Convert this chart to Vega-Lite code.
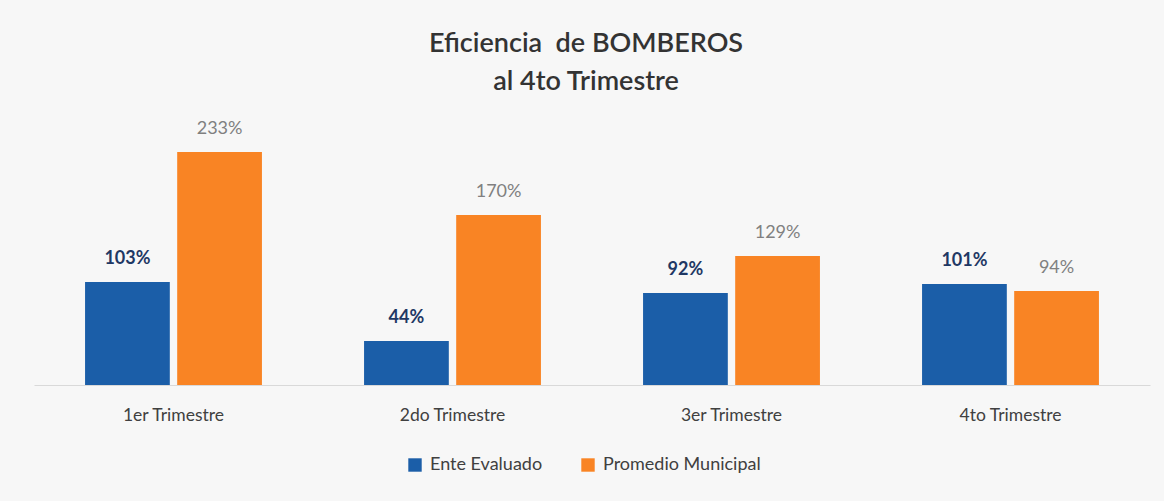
{
  "$schema": "https://vega.github.io/schema/vega-lite/v6.json",
  "autosize": "none",
  "width": 1116,
  "height": 275,
  "padding": {"left": 34, "top": 110, "right": 14, "bottom": 116},
  "background": "#f7f7f7",
  "title": {
    "text": ["Eficiencia\u00a0 de BOMBEROS", "al 4to Trimestre"],
    "font": "Lato",
    "fontSize": 27,
    "fontWeight": 600,
    "color": "#333333",
    "lineHeight": 38,
    "anchor": "middle",
    "offset": 14,
    "dx": -6
  },
  "data": {
    "values": [
      {"trimestre": "1er Trimestre", "serie": "Ente Evaluado", "v": 1.03},
      {"trimestre": "1er Trimestre", "serie": "Promedio Municipal", "v": 2.33},
      {"trimestre": "2do Trimestre", "serie": "Ente Evaluado", "v": 0.44},
      {"trimestre": "2do Trimestre", "serie": "Promedio Municipal", "v": 1.70},
      {"trimestre": "3er Trimestre", "serie": "Ente Evaluado", "v": 0.92},
      {"trimestre": "3er Trimestre", "serie": "Promedio Municipal", "v": 1.29},
      {"trimestre": "4to Trimestre", "serie": "Ente Evaluado", "v": 1.01},
      {"trimestre": "4to Trimestre", "serie": "Promedio Municipal", "v": 0.94}
    ]
  },
  "encoding": {
    "x": {
      "field": "trimestre", "type": "nominal", "sort": null,
      "scale": {"paddingInner": 0.366, "paddingOuter": 0.183},
      "axis": {
        "title": null, "labelAngle": 0, "ticks": false, "domain": true,
        "domainColor": "#d9d9d9", "labelFont": "Lato", "labelFontSize": 17.5,
        "labelColor": "#404040", "labelPadding": 21
      }
    },
    "xOffset": {
      "field": "serie", "type": "nominal",
      "scale": {"paddingInner": 0.08}
    },
    "y": {
      "field": "v", "type": "quantitative",
      "scale": {"domain": [0, 2.75]},
      "axis": null
    }
  },
  "layer": [
    {
      "mark": {"type": "bar"},
      "encoding": {
        "color": {
          "field": "serie", "type": "nominal",
          "scale": {"domain": ["Ente Evaluado", "Promedio Municipal"], "range": ["#1b5ea8", "#f98424"]},
          "legend": {
            "title": null, "orient": "none", "direction": "horizontal",
            "legendX": 372, "legendY": 346,
            "symbolType": "square", "symbolSize": 180, "symbolStrokeWidth": 0,
            "labelFont": "Lato", "labelFontSize": 18, "labelColor": "#404040",
            "labelLimit": 400, "columnPadding": 36, "labelOffset": 6
          }
        }
      }
    },
    {
      "transform": [{"filter": "datum.serie === 'Ente Evaluado'"}],
      "mark": {"type": "text", "baseline": "bottom", "dy": -14, "font": "Lato", "fontSize": 18, "fontWeight": "bold", "color": "#1f3864"},
      "encoding": {"text": {"field": "v", "type": "quantitative", "format": ".0%"}}
    },
    {
      "transform": [{"filter": "datum.serie === 'Promedio Municipal'"}],
      "mark": {"type": "text", "baseline": "bottom", "dy": -14, "font": "Lato", "fontSize": 18, "color": "#808080"},
      "encoding": {"text": {"field": "v", "type": "quantitative", "format": ".0%"}}
    }
  ],
  "config": {"view": {"stroke": null}}
}
